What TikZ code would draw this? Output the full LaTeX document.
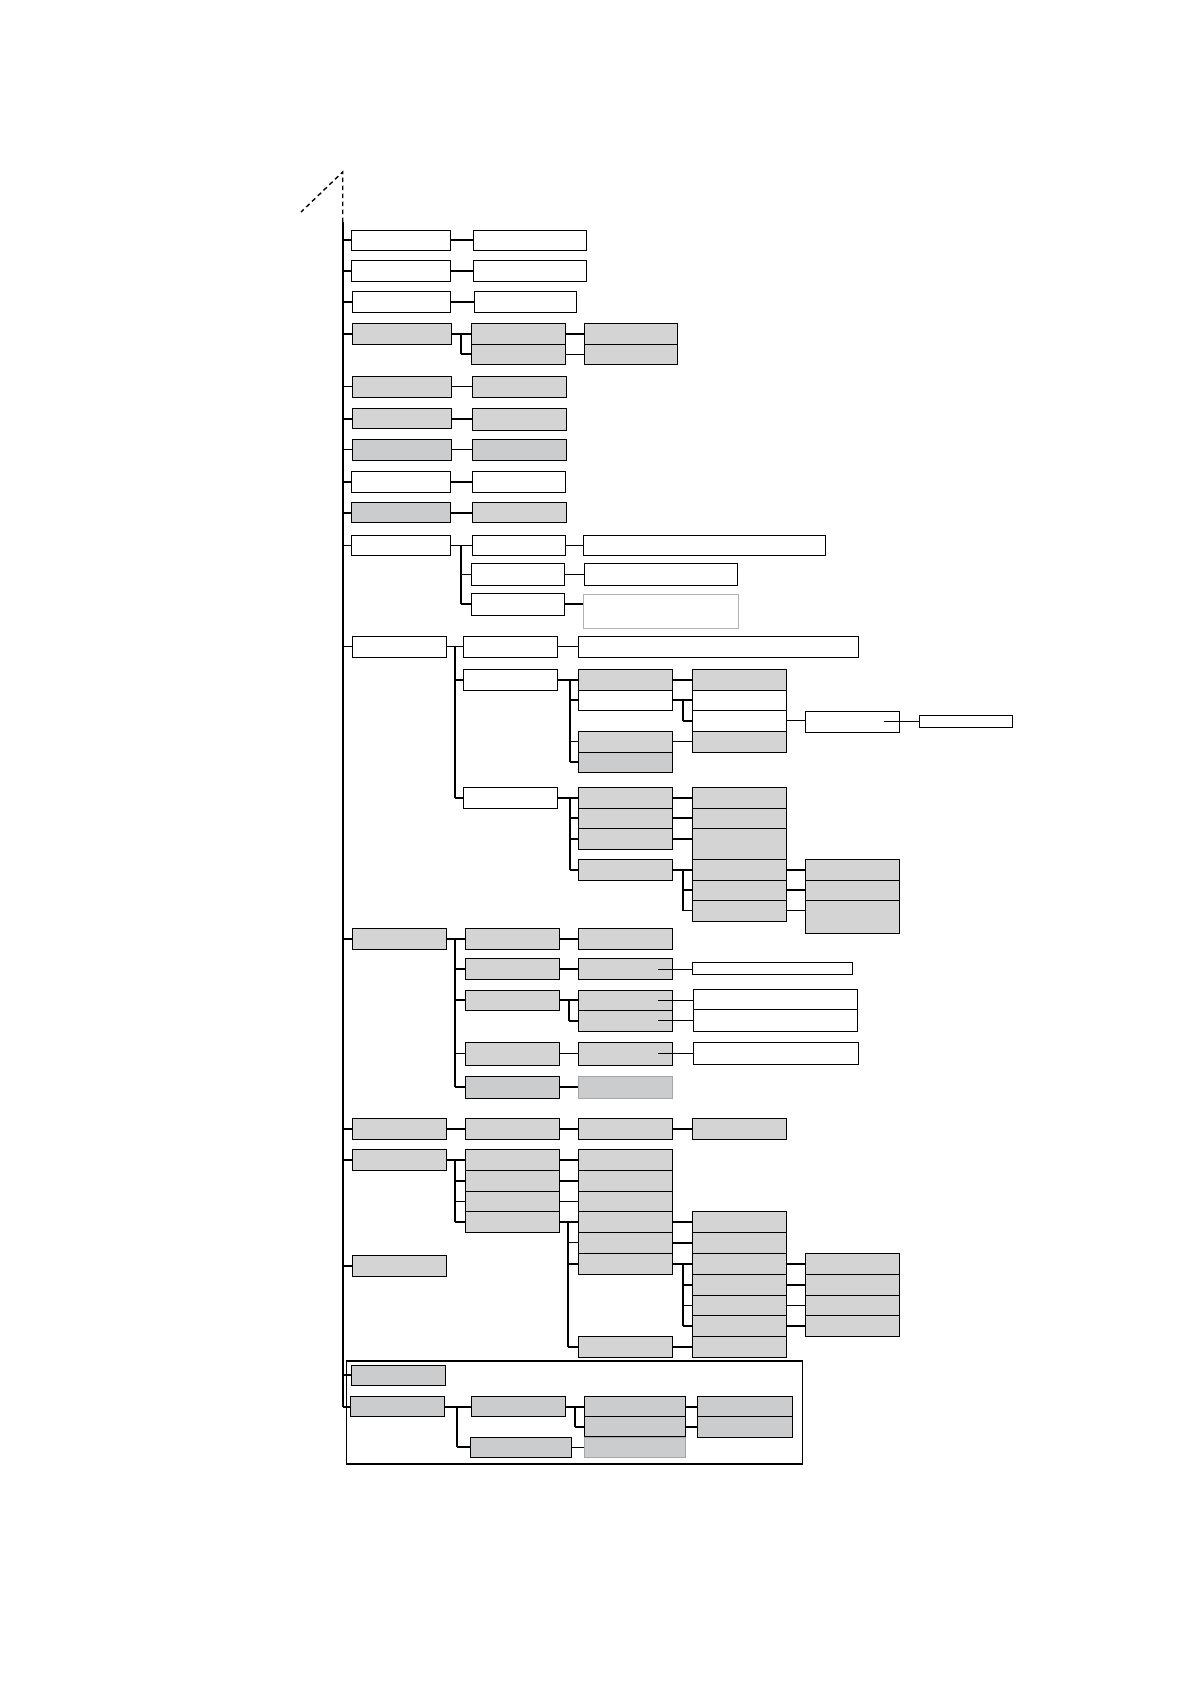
\documentclass[tikz,border=0pt]{standalone}
\definecolor{gA}{RGB}{212,212,212}
\definecolor{gB}{RGB}{203,204,205}
\tikzset{
 bw/.style={draw=black, fill=white, line width=0.9pt, inner sep=0pt, outer sep=0pt},
 bg/.style={bw, fill=gA},
 bd/.style={bw, fill=gB},
 thk/.style={line width=2pt},
 thn/.style={line width=0.7pt},
}
\newcommand\bx[6][bw]{\node[#1, minimum width={(#5-#3)*1pt}, minimum height={(#6-#4)*1pt}] (#2) at ({(#3+#5)/2},{(#4+#6)/2}) {};}
\newcommand\cn[3][thk]{\draw[#1] (#2.east) -- (#2.east -| #3.west);}
\newcommand\tk[3][thk]{\draw[#1] (#2.west -| #3) -- (#2.west);}
\newcommand\spn[3]{\draw[thk] (#1.east -| #3) -- (#2.west -| #3);}
\newcommand\ins[3][14]{\draw[thn] ([xshift=-#1pt]#2.east) -- (#2.east -| #3.west);}
\begin{document}
\begin{tikzpicture}[x=1pt,y=-1pt]
\useasboundingbox (0,0) rectangle (1190,1684);
% rows 1-9
\bx{r1}{351}{230.3}{450.7}{250.3} \bx{r1b}{473.3}{230.3}{586.7}{250.3}
\bx{r2}{351}{260.3}{450.7}{281.3} \bx{r2b}{473.3}{260.3}{586.7}{281.3}
\bx{r3}{352.3}{291.3}{450.7}{312.7} \bx{r3b}{474.3}{291.3}{576.7}{312.7}
\bx[bg]{r4}{352.3}{323.3}{451.7}{344.3}
\bx[bg]{r4a}{471.3}{323.3}{565.7}{344.3} \bx[bg]{r4b}{471.3}{344.3}{565.7}{364.3}
\bx[bg]{r4c}{584.3}{323.3}{677.7}{344.3} \bx[bg]{r4d}{584.3}{344.3}{677.7}{364.3}
\bx[bg]{r5}{352.3}{376}{451.7}{397.3} \bx[bg]{r5b}{472.3}{376}{566.7}{397.3}
\bx[bg]{r6}{352.3}{408.3}{451.7}{428.7} \bx[bg]{r6b}{472.3}{408.3}{566.7}{430.3}
\bx[bd]{r7}{352.3}{439.3}{451.7}{460.3} \bx[bd]{r7b}{472.3}{439.3}{566.7}{460.3}
\bx{r8}{351.3}{471.3}{450.7}{492.7} \bx{r8b}{472.3}{471.3}{565.7}{492.7}
\bx[bd]{r9}{351.3}{502.3}{450.7}{522.7} \bx[bg]{r9b}{472.3}{502.3}{566.7}{522.7}
% row 10
\bx{r10}{351.3}{535.3}{450.7}{555.3}
\bx{r10a}{472.3}{535.3}{565.7}{555.3} \bx{r10a2}{583.3}{535.3}{825.7}{555.3}
\bx{r10b}{471.3}{563.3}{564.7}{585.3} \bx{r10b2}{584.3}{563.3}{737.3}{585.3}
\bx{r10c}{471.3}{593.3}{564.7}{615.3} \bx[bw,draw=gray!60]{r10c2}{583.3}{594}{738.3}{628.3}
% row 11
\bx{r11}{352.3}{636}{446.7}{657.3}
\bx{r11a}{463.3}{636}{557.7}{657.3} \bx{r11a2}{578.3}{636}{858}{657.3}
\bx{r11b}{463.3}{669.3}{557.7}{690.3}
\bx{r11c}{463.3}{787.3}{557.7}{808.3}
\bx[bg]{s1}{578.3}{669.3}{672.7}{690.3} \bx{s2}{578.3}{690.3}{672.7}{710.3}
\bx[bg]{s3}{578.3}{731.3}{672.7}{752.3} \bx[bd]{s4}{578.3}{752.3}{672.7}{772.3}
\bx[bg]{t1}{692.3}{669.3}{786.7}{690.3} \bx{t2}{692.3}{690.3}{786.7}{710.3}
\bx{t3}{692.3}{710.3}{786.7}{731.3} \bx[bg]{t4}{692.3}{731.3}{786.7}{752.3}
\bx{u1}{805.3}{711.3}{899.7}{732.3} \bx{u2}{919.3}{715.3}{1012.7}{727.3}
\bx[bg]{v1}{578.3}{787.3}{672.7}{808.3} \bx[bg]{v2}{578.3}{808.3}{672.7}{828.3}
\bx[bg]{v3}{578.3}{828.3}{672.7}{849.3} \bx[bg]{v4}{578.3}{859.3}{672.7}{880.3}
\bx[bg]{w1}{692.3}{787.3}{786.7}{808.3} \bx[bg]{w2}{692.3}{808.3}{786.7}{828.3}
\bx[bg]{w3}{692.3}{828.3}{786.7}{859.3} \bx[bg]{w4}{692.3}{859.3}{786.7}{880.3}
\bx[bg]{w5}{692.3}{880.3}{786.7}{900.3} \bx[bg]{w6}{692.3}{900.3}{786.7}{921.3}
\bx[bg]{x1}{805.3}{859.3}{899.7}{880.3} \bx[bg]{x2}{805.3}{880.3}{899.7}{900.3}
\bx[bg]{x3}{805.3}{900.3}{899.7}{933.3}
% row 12
\bx[bg]{r12}{352.1}{928.3}{446.8}{949.3}
\bx[bg]{p1}{465.4}{928.3}{559.6}{949.3} \bx[bg]{q1}{578.2}{928.3}{672.5}{949.3}
\bx[bg]{p2}{465.4}{958.3}{559.6}{979.7} \bx[bg]{q2}{578.2}{958.3}{672.5}{979.7}
\bx[bg]{p3}{465.4}{990.3}{559.6}{1010.3} \bx[bg]{q3}{578.2}{990.3}{672.5}{1010.3}
\bx[bg]{q3b}{578.2}{1010.3}{672.5}{1031.3}
\bx[bg]{p4}{465.4}{1042.3}{559.6}{1065.3} \bx[bg]{q4}{578.2}{1042.3}{672.5}{1065.3}
\bx[bd]{p5}{465.4}{1076.3}{559.6}{1098.3} \bx[bd,draw=gray!70]{q5}{578.2}{1076.3}{672.5}{1098.3}
\bx{z2}{692.5}{962.3}{852.5}{974.3}
\bx{z3}{693.2}{989.3}{857.5}{1009.3} \bx{z3b}{693.2}{1009.3}{857.5}{1031.3}
\bx{z4}{693.2}{1042.3}{858.6}{1064.3}
% row 13
\bx[bg]{r13}{352.3}{1118.3}{446.7}{1139.3} \bx[bg]{a13}{465.3}{1118.3}{559.7}{1139.3}
\bx[bg]{b13}{578.3}{1118.3}{672.7}{1139.3} \bx[bg]{c13}{692.3}{1118.3}{786.7}{1139.3}
% row 14
\bx[bg]{r14}{352.3}{1149.3}{446.7}{1170.3}
\bx[bg]{k1}{465.3}{1149.3}{559.7}{1170.3} \bx[bg]{k2}{465.3}{1170.3}{559.7}{1191.3}
\bx[bg]{k3}{465.3}{1191.3}{559.7}{1211.3} \bx[bg]{k4}{465.3}{1211.3}{559.7}{1232.3}
\bx[bg]{m1}{578.3}{1149.3}{672.7}{1170.3} \bx[bg]{m2}{578.3}{1170.3}{672.7}{1191.3}
\bx[bg]{m3}{578.3}{1191.3}{672.7}{1211.3} \bx[bg]{m4}{578.3}{1211.3}{672.7}{1232.3}
\bx[bg]{m5}{578.3}{1232.3}{672.7}{1253.3} \bx[bg]{m6}{578.3}{1253.3}{672.7}{1274.3}
\bx[bg]{m7}{578.3}{1336.3}{672.7}{1357.3}
\bx[bg]{n1}{692.3}{1211.3}{786.7}{1232.3} \bx[bg]{n2}{692.3}{1232.3}{786.7}{1253.3}
\bx[bg]{n3}{692.3}{1253.3}{786.7}{1274.3} \bx[bg]{n4}{692.3}{1274.3}{786.7}{1295.3}
\bx[bg]{n5}{692.3}{1295.3}{786.7}{1315.3} \bx[bg]{n6}{692.3}{1315.3}{786.7}{1336.3}
\bx[bg]{n7}{692.3}{1336.3}{786.7}{1357.3}
\bx[bg]{o1}{805.7}{1253.3}{899.7}{1274.3} \bx[bg]{o2}{805.7}{1274.3}{899.7}{1295.3}
\bx[bg]{o3}{805.7}{1295.3}{899.7}{1315.3} \bx[bg]{o4}{805.7}{1315.3}{899.7}{1336.3}
% row 15
\bx[bg]{r15}{352.3}{1255.3}{446.7}{1276.3}
% frame
\node[draw, line width=1.5pt, inner sep=0pt, minimum width=455.6pt, minimum height=103pt] (frame) at (574.5,1412.5) {};
\bx[bd]{f1}{351.3}{1365.3}{445.7}{1385.3}
\bx[bd]{f2}{350.3}{1396.7}{444.7}{1416.7}
\bx[bd]{g1}{471.3}{1396.7}{565.7}{1416.7} \bx[bd]{g2}{470.3}{1437.3}{571.7}{1457.3}
\bx[bd]{h1}{584.3}{1396.7}{685.7}{1416.7} \bx[bd]{h2}{584.3}{1416.7}{685.7}{1436.7}
\bx[bd,draw=gray!70]{h3}{584.3}{1437.3}{685.7}{1457.3}
\bx[bd]{j1}{697.3}{1396.7}{792.3}{1416.7} \bx[bd]{j2}{697.3}{1416.7}{792.3}{1437.3}
% trunk
\coordinate (tr) at (342.7,0);
\coordinate (ttop) at (342.7,222);
\coordinate (apex) at (342.7,172);
\coordinate (dend) at (301,212);
\draw[line width=1.4pt, dash pattern=on 4.5pt off 3.5pt] (ttop) -- (apex) -- (dend);
\draw[thk] (ttop) -- (f2.west -| tr);
\foreach \n/\s in {r1/thk,r2/thk,r3/thk,r4/thk,r5/thn,r6/thk,r7/thn,r8/thk,r9/thk,r10/thn,r11/thn,r12/thk,r13/thk,r14/thk,r15/thk,f1/thk,f2/thk}
  {\draw[\s] (\n.west -| tr) -- (\n.west);}
% rows 1-9 connectors
\cn{r1}{r1b} \cn{r2}{r2b} \cn{r3}{r3b}
\cn{r4}{r4a} \cn{r4a}{r4c} \cn[thn]{r4b}{r4d}
\coordinate (sA) at (460.7,0);
\spn{r4}{r4b}{sA} \tk{r4b}{sA}
\cn[thn]{r5}{r5b} \cn{r6}{r6b} \cn[thn]{r7}{r7b} \cn{r8}{r8b} \cn{r9}{r9b}
% row 10
\cn[thn]{r10}{r10a}
\spn{r10}{r10c}{sA} \tk[thn]{r10b}{sA} \tk{r10c}{sA}
\cn[thn]{r10a}{r10a2} \cn[thn]{r10b}{r10b2} \cn{r10c}{r10c2}
% row 11
\coordinate (sB) at (455,0);
\coordinate (sC) at (570,0);
\coordinate (sD) at (682.7,0);
\cn[thn]{r11}{r11a} \cn[thn]{r11a}{r11a2}
\spn{r11}{r11c}{sB} \tk{r11b}{sB} \tk{r11c}{sB}
\cn{r11b}{s1} \spn{r11b}{s4}{sC} \tk{s2}{sC} \tk[thn]{s3}{sC} \tk{s4}{sC}
\cn{s1}{t1} \cn{s2}{t2} \spn{s2}{t3}{sD} \tk{t3}{sD} \cn[thn]{s3}{t4}
\cn[thn]{t3}{u1} \ins[16]{u1}{u2}
\cn{r11c}{v1} \spn{r11c}{v4}{sC} \tk{v2}{sC} \tk{v3}{sC} \tk{v4}{sC}
\cn{v1}{w1} \cn{v2}{w2} \cn{v3}{w3} \cn{v4}{w4}
\spn{v4}{w6}{sD} \tk{w5}{sD} \tk[thn]{w6}{sD}
\cn{w4}{x1} \cn{w5}{x2} \cn[thn]{w6}{x3}
% row 12
\coordinate (sE) at (455,0);
\coordinate (sF) at (569.3,0);
\cn{r12}{p1} \spn{r12}{p5}{sE} \tk{p2}{sE} \tk{p3}{sE} \tk[thn]{p4}{sE} \tk{p5}{sE}
\cn{p1}{q1} \cn{p2}{q2} \cn{p3}{q3} \spn{p3}{q3b}{sF} \tk{q3b}{sF}
\cn[thn]{p4}{q4} \cn{p5}{q5}
\ins[15]{q2}{z2} \ins[15]{q3}{z3} \ins[15]{q3b}{z3b} \ins[15]{q4}{z4}
% row 13
\cn{r13}{a13} \cn{a13}{b13} \cn{b13}{c13}
% row 14
\coordinate (sG) at (568.3,0);
\cn{r14}{k1} \spn{r14}{k4}{sB} \tk{k2}{sB} \tk[thn]{k3}{sB} \tk{k4}{sB}
\cn{k1}{m1} \cn{k2}{m2} \cn[thn]{k3}{m3} \cn{k4}{m4}
\spn{k4}{m7}{sG} \tk[thn]{m5}{sG} \tk{m6}{sG} \tk{m7}{sG}
\cn{m4}{n1} \cn{m5}{n2} \cn{m6}{n3} \cn{m7}{n7}
\spn{m6}{n6}{sD} \tk{n4}{sD} \tk[thn]{n5}{sD} \tk{n6}{sD}
\cn{n3}{o1} \cn{n4}{o2} \cn[thn]{n5}{o3} \cn{n6}{o4}
% frame
\coordinate (sH) at (456.7,0);
\coordinate (sI) at (575,0);
\cn{f2}{g1} \spn{f2}{g2}{sH} \tk{g2}{sH}
\cn{g1}{h1} \spn{g1}{h2}{sI} \tk{h2}{sI}
\cn[thn]{g2}{h3} \cn{h1}{j1} \cn{h2}{j2}
\end{tikzpicture}
\end{document}
